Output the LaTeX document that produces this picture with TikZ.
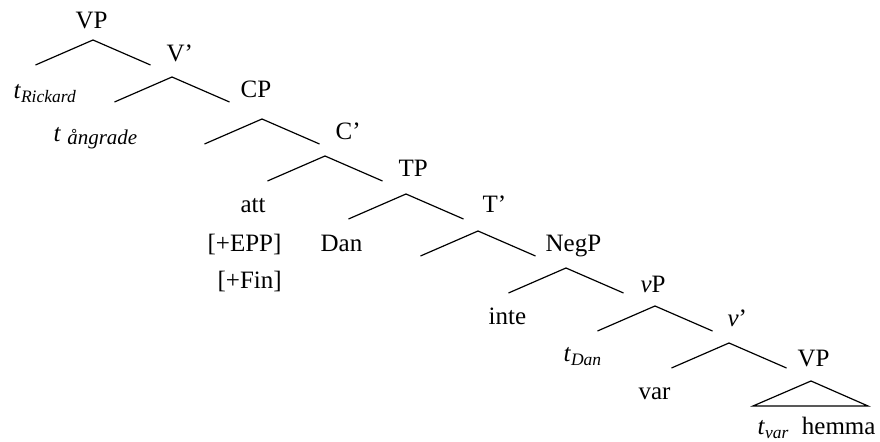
\documentclass[tikz,border=0pt]{standalone}
\usepackage{fontspec}
\setmainfont{Liberation Serif}

\begin{document}
\begin{tikzpicture}[x=0.5pt, y=-0.5pt, line width=0.6pt,
  every node/.style={inner sep=0pt, anchor=base west, font=\fontsize{12.5}{15}\selectfont}]

\useasboundingbox (0,0) rectangle (880,442);

% BRANCHES
\foreach \n/\x/\y in {1/93/40, 2/172/77, 3/262/119, 4/325/156, 5/406/194,
                      6/478/231, 7/566/268, 8/655/306, 9/729/343} {
  \coordinate (top\n) at (\x,\y);
  \coordinate (left\n) at (\x-57.5,\y+25);
  \coordinate (right\n) at (\x+57.5,\y+25);
  \draw (left\n) -- (top\n) -- (right\n);
}

% TRIANGLE
\coordinate (topTri) at (811,381);
\coordinate (leftTri) at (753,406);
\coordinate (rightTri) at (868,406);
\draw (leftTri) -- (topTri) -- (rightTri) -- cycle;

% PHRASE LABELS
\node (vpTop) at (75,29) {VP};
\node (vBar) at (166,62) {V’};
\node (cp) at (240,98) {CP};
\node (cBar) at (335,140) {C’};
\node (tp) at (398,177) {TP};
\node (tBar) at (482,213) {T’};
\node (negP) at (545,252) {NegP};
\node (littleVP) at (640,293) {\textit{v}P};
\node (littleVBar) at (727,327) {\textit{v}’};
\node (vpLow) at (797,367) {VP};

% LEAVES
\node (tRickard) at (13,99) {\textit{t}\textsubscript{\textit{Rickard}}};
\node (tAngrade) at (53,142) {\textit{t} \raisebox{-1.5pt}{\fontsize{10.5}{12}\selectfont\textit{ångrade}}};
\node (att) at (240,213) {att};
\node (epp) at (207,252) {[+EPP]};
\node (fin) at (217,289) {[+Fin]};
\node (dan) at (320,252) {Dan};
\node (inte) at (488,325) {inte};
\node (tDan) at (563,362) {\textit{t}\textsubscript{\textit{Dan}}};
\node (var) at (638,400) {var};
\node (hemma) at (757,435) {\textit{t}\textsubscript{\textit{var}}\enspace hemma};

\end{tikzpicture}
\end{document}
